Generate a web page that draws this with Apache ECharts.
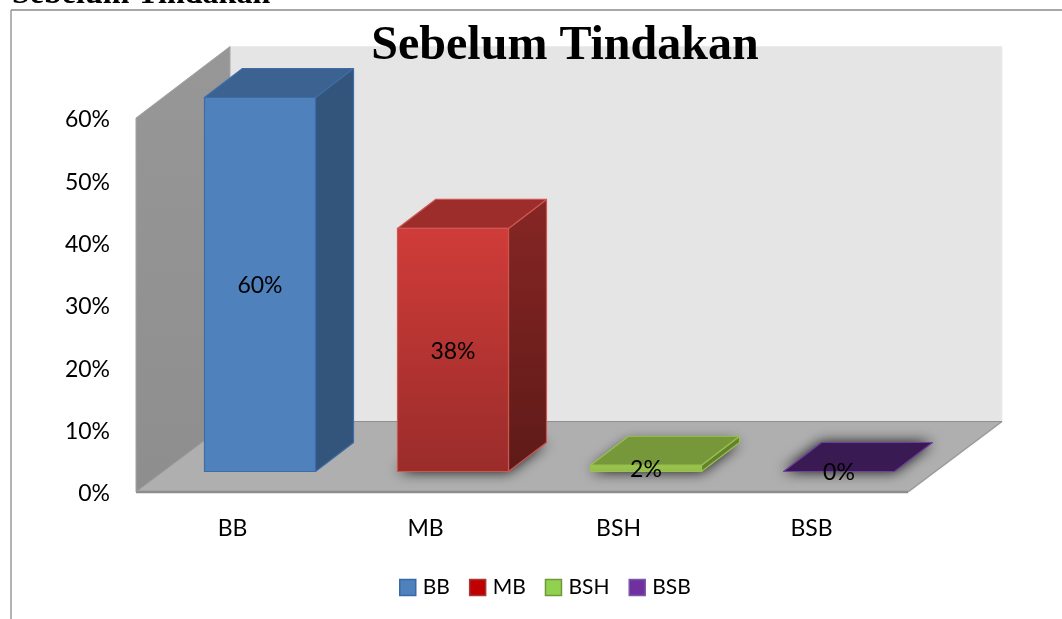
<!DOCTYPE html>
<html>
<head>
<meta charset="utf-8">
<style>html,body{margin:0;padding:0;background:#fff;overflow:hidden}#c{width:1062px;height:619px}</style>
<script src="https://cdn.jsdelivr.net/npm/echarts@6/dist/echarts.min.js"></script>
</head>
<body>
<div id="c"></div>
<script>
const categories = ['BB', 'MB', 'BSH', 'BSB'];
// Drawn bar heights; the printed labels differ slightly for MB and BSH.
const barValues = [60, 39, 1, 0];
const printedLabels = ['60%', '38%', '2%', '0%'];
const yTickStep = 10;
const yMax = 60;
const titleText = 'Sebelum Tindakan';

const faces = [
  {front:'#4f81bd', frontEnd:'#4f81bd', top:'#3c6291', side:'#33547b', sideEnd:'#33547b', line:'#3d6ca6', legend:'#4f81bd', legendLine:'#3a6aa5', shadow:false},
  {front:'#d03c39', frontEnd:'#9a2c2a', top:'#9c2d2b', side:'#862624', sideEnd:'#5e1a18', line:'#cc5652', legend:'#c00000', legendLine:'#a33a3a', shadow:true},
  {front:'#9bc54f', frontEnd:'#93bb49', top:'#77983a', side:'#64822d', sideEnd:'#64822d', line:'#98c24e', legend:'#92d050', legendLine:'#6f9a3a', shadow:true},
  {front:'#3a1a52', frontEnd:'#3a1a52', top:'#3a1a52', side:'#3a1a52', sideEnd:'#3a1a52', line:'#7040a0', legend:'#7030a0', legendLine:'#7a5aa8', shadow:true}
];
const font = 'Lato';
const BOX_DX = 94, BOX_DY = 70.5;
const BAR_DX = 38, BAR_DY = 29;
const BAR_SHIFT_X = 27.5, BAR_SHIFT_Y = 20.5, BAR_HALF = 55.5;

function vGrad(a, b) {
  return {type:'linear', x:0, y:0, x2:0, y2:1, colorStops:[{offset:0,color:a},{offset:1,color:b}]};
}

function renderBox(params, api) {
  const cs = params.coordSys;
  const zero = api.coord([0, 0])[1];
  const top = api.coord([0, yMax])[1];
  const l = cs.x, r = cs.x + cs.width;
  const poly = (points, fill, extra) => ({type:'polygon', silent:true, shape:{points}, style:Object.assign({fill}, extra || {})});
  return {type:'group', children:[
    poly([[l+BOX_DX, top-BOX_DY-1],[r+BOX_DX, top-BOX_DY-1],[r+BOX_DX, zero-BOX_DY],[l+BOX_DX, zero-BOX_DY]], '#e5e5e5', {stroke:'#ececec', lineWidth:1}),
    poly([[l, top],[l+BOX_DX, top-BOX_DY-1],[l+BOX_DX, zero-BOX_DY],[l, zero]], vGrad('#979797','#8e8e8e'), {stroke:'#a4a4a4', lineWidth:1}),
    poly([[l, zero],[r, zero],[r+BOX_DX, zero-BOX_DY],[l+BOX_DX, zero-BOX_DY]], '#afafaf'),
    {type:'line', silent:true, shape:{x1:l, y1:zero, x2:r, y2:zero}, style:{stroke:'#8d8d8d', lineWidth:2.5}},
    {type:'line', silent:true, shape:{x1:r, y1:zero, x2:r+BOX_DX, y2:zero-BOX_DY}, style:{stroke:'#999999', lineWidth:1.5}},
    {type:'line', silent:true, shape:{x1:l+BOX_DX, y1:zero-BOX_DY, x2:r+BOX_DX, y2:zero-BOX_DY}, style:{stroke:'#8f8f8f', lineWidth:1}},
    {type:'line', silent:true, shape:{x1:l, y1:zero, x2:l+BOX_DX, y2:zero-BOX_DY}, style:{stroke:'#9c9c9c', lineWidth:1}}
  ]};
}

function makeBarRenderer(index) {
  return function (params, api) {
    const f = faces[index];
    const base = api.coord([api.value(0), 0]);
    const head = api.coord([api.value(0), api.value(1)]);
    const x0 = base[0] + BAR_SHIFT_X - BAR_HALF;
    const x1 = base[0] + BAR_SHIFT_X + BAR_HALF;
    const yb = base[1] - BAR_SHIFT_Y;
    const yt = head[1] - BAR_SHIFT_Y;
    const kids = [];
    const foot = [[x0,yb],[x1,yb],[x1+BAR_DX,yb-BAR_DY],[x0+BAR_DX,yb-BAR_DY]];
    if (f.shadow) {
      kids.push({type:'polygon', silent:true, shape:{points:foot},
        style:{fill:'#555', shadowBlur:14, shadowColor:'rgba(0,0,0,0.95)', shadowOffsetX:0, shadowOffsetY:0}});
    }
    const stroke = {stroke:f.line, lineWidth:1.2, lineJoin:'round'};
    if (yb - yt > 0.5) {
      kids.push({type:'polygon', silent:true, shape:{points:[[x1,yb],[x1+BAR_DX,yb-BAR_DY],[x1+BAR_DX,yt-BAR_DY],[x1,yt]]},
        style:Object.assign({fill:vGrad(f.side,f.sideEnd)}, stroke)});
    }
    kids.push({type:'polygon', silent:true, shape:{points:[[x0,yt],[x1,yt],[x1+BAR_DX,yt-BAR_DY],[x0+BAR_DX,yt-BAR_DY]]},
      style:Object.assign({fill:f.top}, stroke)});
    if (yb - yt > 0.5) {
      kids.push({type:'polygon', silent:true, shape:{points:[[x0,yt],[x1,yt],[x1,yb],[x0,yb]]},
        style:Object.assign({fill:vGrad(f.front,f.frontEnd)}, stroke)});
    }
    kids.push({type:'text', silent:true, z2:50, style:{
      text:printedLabels[index], x:(x0+x1)/2, y:(yt+yb)/2 + 1.5,
      align:'center', verticalAlign:'middle', fill:'#000', font:'23px ' + font
    }});
    return {type:'group', children:kids};
  };
}

const series = [{
  type:'custom', name:'box', z:1, silent:true, clip:false,
  coordinateSystem:'cartesian2d', renderItem:renderBox, data:[[0,0]], encode:{x:0,y:1}
}];
categories.forEach((c, i) => {
  series.push({
    type:'custom', name:c, z:2+i, silent:true, clip:false,
    coordinateSystem:'cartesian2d', renderItem:makeBarRenderer(i),
    itemStyle:{color:faces[i].legend},
    data:[[i, barValues[i]]], encode:{x:0,y:1}
  });
});

const chart = echarts.init(document.getElementById('c'), null, {renderer:'canvas', width:1062, height:619});
chart.setOption({
  animation:false,
  backgroundColor:'#ffffff',
  title:[
    {text:titleText, left:565, top:19, textAlign:'center', z:20,
     textStyle:{fontFamily:'Liberation Serif', fontWeight:'bold', fontSize:48, color:'#000', lineHeight:56}, padding:0},
    {text:titleText, left:12, top:-23, z:20,
     textStyle:{fontFamily:'Liberation Serif', fontWeight:'bold', fontSize:32, color:'#000', lineHeight:36}, padding:0}
  ],
  legend:{
    left:399, top:577, itemWidth:16, itemHeight:16, itemGap:19, padding:0, icon:'rect',
    textStyle:{fontFamily:font, fontSize:21, lineHeight:16, color:'#000', padding:[0,0,0,2]},
    selectedMode:false,
    data:categories.map((c,i)=>({name:c, itemStyle:{color:faces[i].legend, borderColor:faces[i].legendLine, borderWidth:1.5}}))
  },
  grid:{left:136, top:118, width:772, height:374, containLabel:false},
  xAxis:{
    type:'category', data:categories,
    axisLine:{show:false}, axisTick:{show:false}, splitLine:{show:false},
    axisLabel:{fontFamily:font, fontSize:23, color:'#000', margin:25, interval:0}
  },
  yAxis:{
    type:'value', min:0, max:yMax, interval:yTickStep,
    axisLine:{show:false}, axisTick:{show:false}, splitLine:{show:false},
    axisLabel:{color:'#000', margin:26, formatter:'{t|{value}%}',
      rich:{t:{fontFamily:font, fontSize:23, color:'#000', padding:[4,0,0,0]}}}
  },
  graphic:[
    {type:'line', silent:true, z:30, shape:{x1:11, y1:10, x2:1062, y2:10}, style:{stroke:'#8a8a8a', lineWidth:1.5}},
    {type:'line', silent:true, z:30, shape:{x1:11, y1:10, x2:11, y2:619}, style:{stroke:'#9a9a9a', lineWidth:1.5}}
  ],
  series
});
</script>
</body>
</html>
